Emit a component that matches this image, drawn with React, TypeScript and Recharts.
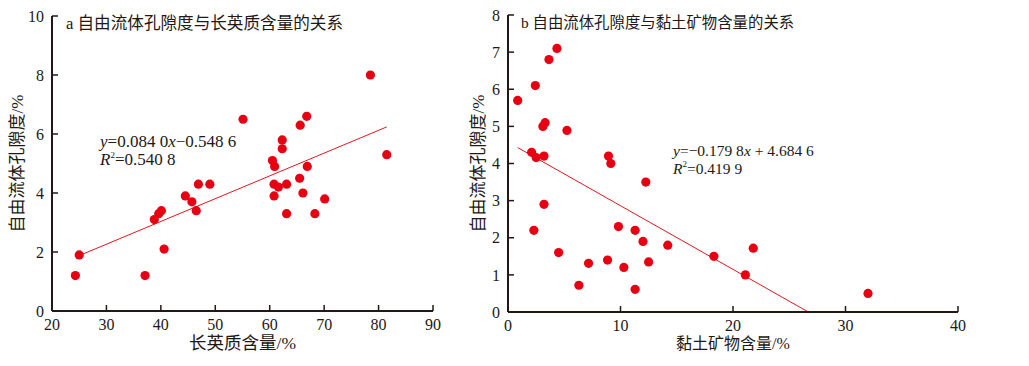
import { ScatterChart, Scatter, XAxis, YAxis, ReferenceLine, Label } from "recharts";

// panel a: feldspar-quartz content vs free-fluid porosity
const feldsparContent = [24.3, 25.0, 37.1, 38.8, 39.6, 40.1, 40.6, 44.5, 45.7, 46.5, 46.9, 49.0, 55.1, 60.5, 60.9, 60.8, 61.6, 60.8, 62.3, 62.3, 63.1, 63.1, 65.6, 66.8, 65.5, 66.9, 66.1, 68.3, 70.1, 78.5, 81.5];
const feldsparPorosity = [1.2, 1.9, 1.2, 3.1, 3.3, 3.4, 2.1, 3.9, 3.7, 3.4, 4.3, 4.3, 6.5, 5.1, 4.9, 4.3, 4.2, 3.9, 5.8, 5.5, 4.3, 3.3, 6.3, 6.6, 4.5, 4.9, 4.0, 3.3, 3.8, 8.0, 5.3];
const feldsparTrendX = [24.9, 81.5];
const feldsparTrendY = [1.87, 6.24];
const feldsparXTicks = [20, 30, 40, 50, 60, 70, 80, 90];
const feldsparYTicks = [0, 2, 4, 6, 8, 10];

// panel b: clay mineral content vs free-fluid porosity
const clayContent = [0.86, 2.43, 3.64, 4.35, 3.1, 3.3, 5.24, 2.1, 2.5, 3.2, 3.2, 2.3, 4.5, 6.3, 7.16, 8.85, 8.93, 9.14, 9.82, 10.3, 11.3, 11.3, 12.0, 12.25, 12.5, 14.2, 18.3, 21.1, 21.8, 32.0];
const clayPorosity = [5.7, 6.1, 6.8, 7.1, 5.0, 5.1, 4.89, 4.3, 4.16, 4.2, 2.9, 2.2, 1.6, 0.72, 1.31, 1.4, 4.2, 4.0, 2.3, 1.2, 2.2, 0.61, 1.9, 3.5, 1.35, 1.8, 1.5, 1.0, 1.72, 0.5];
const clayTrendX = [0.86, 26.7];
const clayTrendY = [4.43, 0];
const clayXTicks = [0, 10, 20, 30, 40];
const clayYTicks = [0, 1, 2, 3, 4, 5, 6, 7, 8];

const INK = "#231815";
const RED = "#e60012";
const FONT = "'Liberation Serif', 'Noto Sans CJK SC', serif";
const GAP = 8;

const toPoints = (xs: number[], ys: number[]) => xs.map((x, i) => ({ x, y: ys[i] }));

const XTick = (props: any) => {
  const { x, y, payload } = props;
  return (
    <g>
      <line x1={x} x2={x} y1={y - GAP} y2={y - GAP - 6} stroke={INK} strokeWidth={1.5} />
      <text x={x} y={y} dy="0.71em" textAnchor="middle" fontSize={16} fontFamily={FONT} fill={INK}>
        {payload.value}
      </text>
    </g>
  );
};

const YTick = (props: any) => {
  const { x, y, payload } = props;
  return (
    <g>
      <line x1={x + GAP} x2={x + GAP + 6} y1={y} y2={y} stroke={INK} strokeWidth={1.5} />
      <text x={x} y={y} dy="0.355em" textAnchor="end" fontSize={16} fontFamily={FONT} fill={INK}>
        {payload.value}
      </text>
    </g>
  );
};

const Dot = (props: any) => <circle cx={props.cx} cy={props.cy} r={4.6} fill={RED} />;

type PanelProps = {
  left: number;
  width: number;
  margin: { top: number; right: number; bottom: number; left: number };
  xs: number[];
  ys: number[];
  trendX: number[];
  trendY: number[];
  xDomain: [number, number];
  yDomain: [number, number];
  xTicks: number[];
  yTicks: number[];
  xLabel: string;
  xLabelSize: number;
  yLabelOffset: number;
};

const Panel = (p: PanelProps) => (
  <div style={{ position: "absolute", left: p.left, top: 0 }}>
    <ScatterChart width={p.width} height={366} margin={p.margin}>
      <XAxis
        type="number"
        dataKey="x"
        domain={p.xDomain}
        ticks={p.xTicks}
        tick={<XTick />}
        tickLine={false}
        tickSize={0}
        tickMargin={GAP}
        height={30}
        axisLine={{ stroke: INK, strokeWidth: 2 }}
        allowDataOverflow
      >
        <Label
          value={p.xLabel}
          position="bottom"
          offset={-4}
          style={{ fontSize: p.xLabelSize, fontFamily: FONT, fill: INK }}
        />
      </XAxis>
      <YAxis
        type="number"
        dataKey="y"
        domain={p.yDomain}
        ticks={p.yTicks}
        tick={<YTick />}
        tickLine={false}
        tickSize={0}
        tickMargin={GAP}
        width={40}
        axisLine={{ stroke: INK, strokeWidth: 2 }}
        allowDataOverflow
      >
        <Label
          value="自由流体孔隙度/%"
          angle={-90}
          position="insideLeft"
          offset={p.yLabelOffset}
          style={{ fontSize: 17, fontFamily: FONT, fill: INK, textAnchor: "middle" }}
        />
      </YAxis>
      <ReferenceLine
        segment={toPoints(p.trendX, p.trendY)}
        stroke="#e8141f"
        strokeWidth={1}
        ifOverflow="visible"
      />
      <Scatter data={toPoints(p.xs, p.ys)} shape={<Dot />} isAnimationActive={false} />
    </ScatterChart>
  </div>
);

export default function App() {
  return (
    <div style={{ position: "absolute", left: 0, top: 0, width: 1029, height: 366, background: "#fff" }}>
      <Panel
        left={0}
        width={470}
        margin={{ top: 16, right: 37, bottom: 25, left: 12 }}
        xs={feldsparContent}
        ys={feldsparPorosity}
        trendX={feldsparTrendX}
        trendY={feldsparTrendY}
        xDomain={[20, 90]}
        yDomain={[0, 10]}
        xTicks={feldsparXTicks}
        yTicks={feldsparYTicks}
        xLabel="长英质含量/%"
        xLabelSize={17.5}
        yLabelOffset={5}
      />
      <Panel
        left={460}
        width={569}
        margin={{ top: 15, right: 71, bottom: 24, left: 8 }}
        xs={clayContent}
        ys={clayPorosity}
        trendX={clayTrendX}
        trendY={clayTrendY}
        xDomain={[0, 40]}
        yDomain={[0, 8]}
        xTicks={clayXTicks}
        yTicks={clayYTicks}
        xLabel="黏土矿物含量/%"
        xLabelSize={16}
        yLabelOffset={10}
      />
      <svg width={1029} height={366} style={{ position: "absolute", left: 0, top: 0, pointerEvents: "none" }}>
        <g fontFamily={FONT} fill={INK}>
          <text x={66} y={29} fontSize={16.6}>a 自由流体孔隙度与长英质含量的关系</text>
          <text x={521} y={28} fontSize={15.4}>b 自由流体孔隙度与黏土矿物含量的关系</text>
          <text x={100} y={147} fontSize={17}>
            <tspan fontStyle="italic">y</tspan>=0.084 0<tspan fontStyle="italic">x</tspan>−0.548 6
          </text>
          <text x={100} y={165} fontSize={17}>
            <tspan fontStyle="italic">R</tspan>
            <tspan fontSize={9} dy={-7}>2</tspan>
            <tspan dy={7}>=0.540 8</tspan>
          </text>
          <text x={673} y={156} fontSize={15.5}>
            <tspan fontStyle="italic">y</tspan>=−0.179 8<tspan fontStyle="italic">x</tspan> + 4.684 6
          </text>
          <text x={673} y={174} fontSize={15.5}>
            <tspan fontStyle="italic">R</tspan>
            <tspan fontSize={9} dy={-7}>2</tspan>
            <tspan dy={7}>=0.419 9</tspan>
          </text>
        </g>
      </svg>
    </div>
  );
}
